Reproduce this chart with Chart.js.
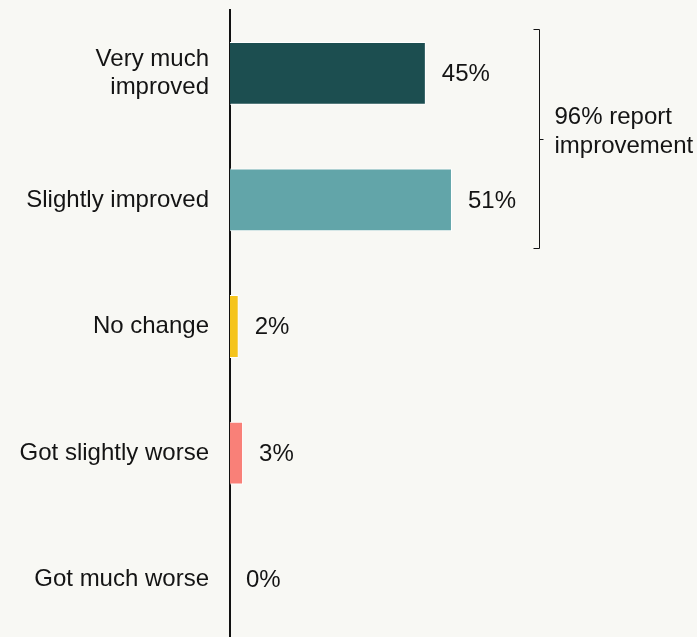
<!DOCTYPE html>
<html>
<head>
<meta charset="utf-8">
<script src="https://cdn.jsdelivr.net/npm/chart.js@4/dist/chart.umd.min.js"></script>
<style>
  html, body { margin: 0; padding: 0; background: #f8f8f4; overflow: hidden; }
  #wrap { width: 697px; height: 637px; overflow: hidden; }
</style>
</head>
<body>
<div id="wrap"><canvas id="myChart" width="697" height="645"></canvas></div>
<script>
const categories = [['Very much', 'improved'], 'Slightly improved', 'No change', 'Got slightly worse', 'Got much worse'];
const shares = [45, 51, 2, 3, 0];
const barColors = ['#1c4e50', '#62a5a9', '#f5c41c', '#f98078', '#cccccc'];
const bracketLines = ['96% report', 'improvement'];

const fontFamily = '"Liberation Sans", Arial, Helvetica, sans-serif';
var ctx = document.getElementById('myChart').getContext('2d');

// value labels next to each bar + bracket round the two "improved" bars
const extras = {
    id: 'extras',
    afterDatasetsDraw(chart) {
        const c = chart.ctx;
        const meta = chart.getDatasetMeta(0);
        const xs = chart.scales.x;
        c.save();
        c.font = '24px ' + fontFamily;
        c.fillStyle = '#141414';
        c.textBaseline = 'middle';
        c.textAlign = 'left';
        meta.data.forEach((bar, i) => {
            c.fillText(shares[i] + '%', bar.x + 16, bar.y + 1);
        });

        const b0 = meta.data[0], b1 = meta.data[1];
        const top = Math.round(b0.y - b0.height / 2 - 13) + 0.5;
        const bottom = Math.round(b1.y + b1.height / 2 + 17) + 0.5;
        const mid = Math.round((top + bottom) / 2) + 0.5;
        const bx = Math.round(xs.getPixelForValue(71.1)) + 0.5;
        c.strokeStyle = '#141414';
        c.lineWidth = 1;
        c.beginPath();
        c.moveTo(bx - 6, top); c.lineTo(bx, top); c.lineTo(bx, bottom); c.lineTo(bx - 6, bottom);
        c.moveTo(bx, mid); c.lineTo(bx + 4, mid);
        c.stroke();

        c.textBaseline = 'alphabetic';
        c.fillText(bracketLines[0], bx + 15, mid - 16);
        c.fillText(bracketLines[1], bx + 15, mid + 13);
        c.restore();
    }
};

var myChart = new Chart(ctx, {
    type: 'bar',
    data: {
        labels: categories,
        datasets: [{
            data: shares,
            backgroundColor: barColors,
            borderColor: '#ffffff',
            borderWidth: 1,
            barPercentage: 0.62,
            categoryPercentage: 0.8
        }]
    },
    options: {
        indexAxis: 'y',
        responsive: false,
        animation: false,
        layout: { padding: { top: 10, bottom: 2, left: 0, right: 0 } },
        plugins: { legend: { display: false }, tooltip: { enabled: false } },
        scales: {
            x: {
                display: false,
                min: 0,
                max: 107.3
            },
            y: {
                afterFit: (scale) => {
                    scale.width = 230;
                    scale.paddingTop = 0;
                    scale.paddingBottom = 0;
                },
                grid: { display: false, drawTicks: false },
                border: { display: true, color: '#111111', width: 2 },
                ticks: {
                    padding: 21,
                    color: '#141414',
                    font: { family: fontFamily, size: 24, lineHeight: 1.2 }
                }
            }
        }
    },
    plugins: [extras]
});
</script>
</body>
</html>
